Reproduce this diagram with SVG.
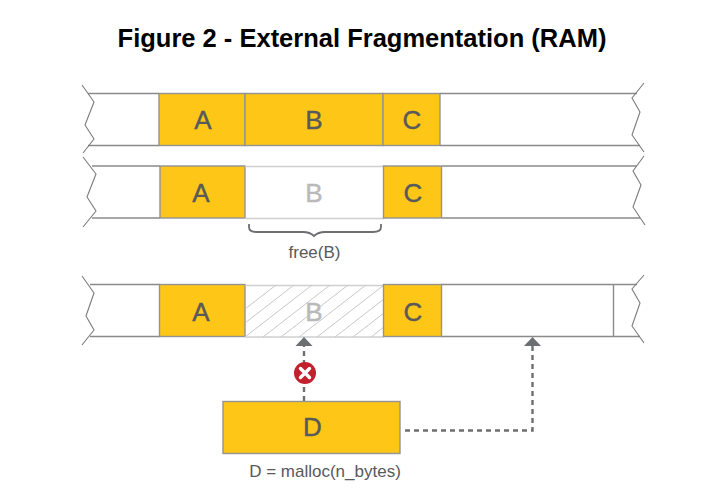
<svg xmlns="http://www.w3.org/2000/svg" width="726" height="495" viewBox="0 0 726 495">
<style>
text{font-family:"Liberation Sans",Arial,sans-serif;text-anchor:middle}
.t{font-size:26px;fill:#58595b;stroke:#58595b;stroke-width:.4}
.g{font-size:26px;fill:#b9b9b9;stroke:#b9b9b9;stroke-width:.4}
.s{font-size:17px;fill:#58595b}
.y{fill:#fec717;stroke:#939393;stroke-width:1.4}
.l{fill:none;stroke:#8a8a8a;stroke-width:1.4}
.f{fill:none;stroke:#cfcfcf;stroke-width:1.4}
.j{fill:none;stroke:#7c7c7c;stroke-width:1.1}
.d{fill:none;stroke:#6d6e71;stroke-width:2.4;stroke-dasharray:5 4}
.h{stroke:#c8c8c8;stroke-width:1}
</style>
<defs>
<marker id="ah" markerUnits="userSpaceOnUse" markerWidth="18" markerHeight="10" refX="9" refY="9.500" orient="0">
<path d="M0.500,9.500 L9,0.500 L17.500,9.500 Z" fill="#6d6e71"/>
</marker>
<clipPath id="hc"><rect x="246" y="285" width="137" height="52"/></clipPath>
</defs>
<rect width="726" height="495" fill="#fff"/>
<text id="title" x="362" y="47" style="font-size:25.500px;font-weight:700;fill:#000">Figure 2 - External Fragmentation (RAM)</text>

<g id="row1">
<path class="l" d="M88,93.500H159M88,145.500H159M440,93.500H637M440,145.500H640"/>
<path class="j" d="M82,85 L94,102 L85,125 L94,139 L83,153"/>
<path class="j" d="M644,83 L632,98 L640,112 L632,135 L644,152"/>
</g>
<g id="row1-A"><rect class="y" x="159" y="93.500" width="86" height="52"/><text class="t" x="203" y="128.500">A</text></g>
<g id="row1-B"><rect class="y" x="245" y="93.500" width="138" height="52"/><text class="t" x="314" y="128.500">B</text></g>
<g id="row1-C"><rect class="y" x="383" y="93.500" width="57" height="52"/><text class="t" x="412" y="128.500">C</text></g>

<g id="row2">
<path class="l" d="M92,166H160M92,218H160M442,166H637M442,218H640"/>
<path class="j" d="M83,157 L96,174 L87,197 L96,211 L83,227"/>
<path class="j" d="M644,156 L633,171 L641,185 L633,207 L645,225"/>
</g>
<g id="row2-A"><rect class="y" x="160" y="166" width="85" height="52"/><text class="t" x="201" y="201.500">A</text></g>
<g id="row2-B"><path class="f" d="M245,166.500H384M245,218.500H384"/><text class="g" x="314" y="201.500">B</text></g>
<g id="row2-C"><rect class="y" x="383.500" y="166" width="58" height="52"/><text class="t" x="413" y="201.500">C</text></g>
<g id="free"><path d="M249,224 V227 Q249,232 256,232 H303 Q310,232 314,236 Q318,232 325,232 H373 Q381,232 381,227 V224" fill="none" stroke="#6d6e71" stroke-width="1.800"/><text class="s" x="314.500" y="257.500">free(B)</text></g>

<g id="row3">
<path class="l" d="M90,284.500H160M90,336.500H160M441,284.500H637M441,336.500H640"/>
<path class="j" d="M82,276 L94,293 L86,316 L94,330 L82,345"/>
<path class="j" d="M644,275 L632,289 L640,303 L632,326 L644,343"/>
<path class="l" d="M613.500,284.500V336.500"/>
</g>
<g id="row3-A"><rect class="y" x="159.500" y="284.500" width="85.500" height="52"/><text class="t" x="201" y="320.500">A</text></g>
<g id="row3-B">
<path class="f" d="M245,285.500H384M245,337H384"/>
<g clip-path="url(#hc)">
<path class="h" d="M227,337L294,285M245,337L312,285M263,337L330,285M281,337L348,285M299,337L366,285M317,337L384,285M335,337L402,285M353,337L420,285M371,337L438,285M209,337L276,285"/>
</g>
<text class="g" x="314" y="320.500">B</text>
</g>
<g id="row3-C"><rect class="y" x="383.500" y="284.500" width="58" height="52"/><text class="t" x="413" y="320.500">C</text></g>

<g id="connectors">
<path class="d" d="M304,401V346" marker-end="url(#ah)"/>
<path class="d" d="M405,430.500H532.500V346" marker-end="url(#ah)"/>
</g>
<g id="error"><circle cx="305" cy="373" r="11" fill="#c1202c"/><path d="M300.500,368.500L309.500,377.500M309.500,368.500L300.500,377.500" stroke="#fff" stroke-width="3.400" stroke-linecap="round"/></g>
<g id="D"><rect class="y" x="223" y="401.500" width="177" height="52"/><text class="t" x="312.500" y="435.500">D</text><text class="s" x="325" y="476.500">D = malloc(n_bytes)</text></g>
</svg>
